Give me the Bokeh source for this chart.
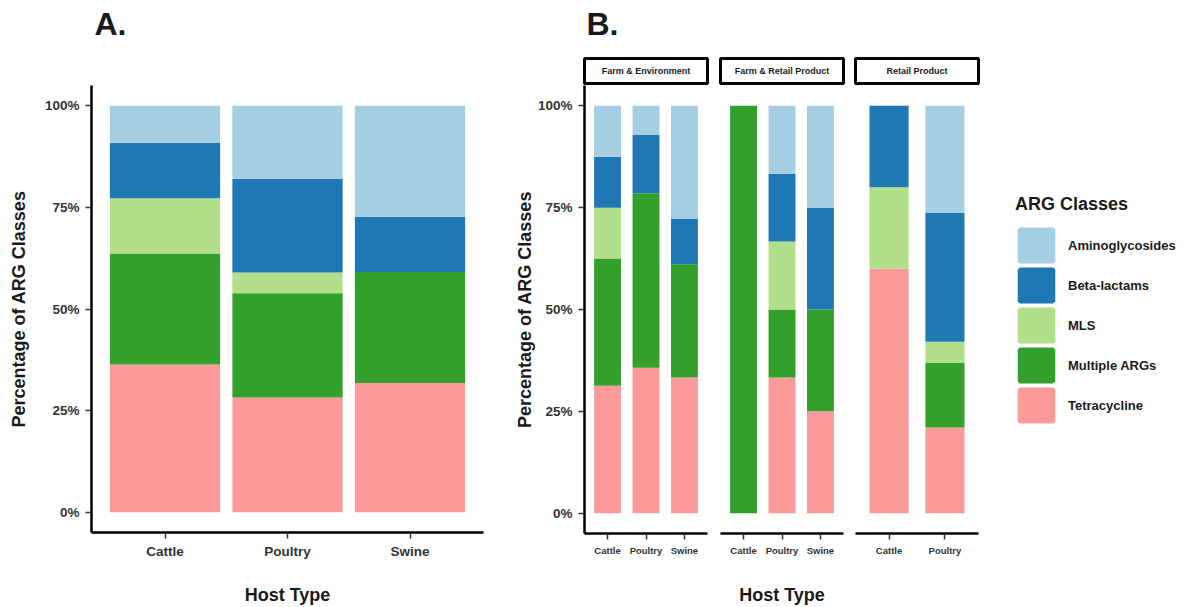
import numpy as np
from bokeh.plotting import figure
from bokeh.layouts import row, column
from bokeh.models import (ColumnDataSource, FactorRange, Range1d, FixedTicker,
                          NumeralTickFormatter, Label, Legend, LegendItem)
from bokeh.embed import file_html
from bokeh.resources import INLINE

FONT = "Liberation Sans"
TXT = "#1a1a1a"
TICK_TXT = "#333333"

# ---- classes (legend order, top to bottom) ----
arg_classes = ["Aminoglycosides", "Beta-lactams", "MLS", "Multiple ARGs", "Tetracycline"]
class_colors = ["#A6CEE3", "#1F78B4", "#B2DF8A", "#33A02C", "#FB9A99"]

# ---- Panel A: all sources (counts of ARGs per host) ----
hosts_all = ["Cattle", "Poultry", "Swine"]
all_tetracycline = [8, 11, 7]
all_multiple = [6, 10, 6]
all_mls = [3, 2, 0]
all_beta = [3, 9, 3]
all_amino = [2, 7, 6]

# ---- Panel B: by source ----
facet_names = ["Farm & Environment", "Farm & Retail Product", "Retail Product"]

fe_hosts = ["Cattle", "Poultry", "Swine"]
fe_tetracycline = [5, 5, 6]
fe_multiple = [5, 6, 5]
fe_mls = [2, 0, 0]
fe_beta = [2, 2, 2]
fe_amino = [2, 1, 5]

fr_hosts = ["Cattle", "Poultry", "Swine"]
fr_tetracycline = [0, 2, 1]
fr_multiple = [1, 1, 1]
fr_mls = [0, 1, 0]
fr_beta = [0, 1, 1]
fr_amino = [0, 1, 1]

rp_hosts = ["Cattle", "Poultry"]
rp_tetracycline = [3, 4]
rp_multiple = [0, 3]
rp_mls = [1, 1]
rp_beta = [1, 6]
rp_amino = [0, 5]

stack_order = ["Tetracycline", "Multiple ARGs", "MLS", "Beta-lactams", "Aminoglycosides"]
stack_colors = [class_colors[arg_classes.index(c)] for c in stack_order]

TOP_H = 85          # space above the panels (tags + strips)
FRAME_H = 448
BOTTOM_H = 74
H_TOTAL = TOP_H + FRAME_H + BOTTOM_H


def make_source(hosts, tet, mul, mls, beta, amino):
    counts = np.array([tet, mul, mls, beta, amino], dtype=float)
    frac = counts / counts.sum(axis=0)
    data = {"host": hosts}
    for name, vals in zip(stack_order, frac):
        data[name] = list(vals)
    return ColumnDataSource(data)


def style_x(p, size):
    ax = p.xaxis[0]
    ax.axis_line_color = "black"
    ax.axis_line_width = 2.5
    ax.major_tick_line_color = "#333333"
    ax.major_tick_line_width = 1.5
    ax.major_tick_out = 6
    ax.major_tick_in = 0
    ax.minor_tick_line_color = None
    ax.major_label_text_font = FONT
    ax.major_label_text_font_style = "bold"
    ax.major_label_text_font_size = size
    ax.major_label_text_color = TICK_TXT
    ax.major_label_standoff = 5
    ax.axis_label_text_font = FONT
    ax.axis_label_text_font_style = "bold"
    ax.axis_label_text_font_size = "18px"
    ax.axis_label_text_color = TXT


def style_y(p, label_standoff):
    ax = p.yaxis[0]
    ax.ticker = FixedTicker(ticks=[0, 0.25, 0.5, 0.75, 1.0])
    ax.formatter = NumeralTickFormatter(format="0%")
    ax.axis_line_color = "black"
    ax.axis_line_width = 2.5
    ax.major_tick_line_color = "#333333"
    ax.major_tick_line_width = 1.5
    ax.major_tick_out = 6
    ax.major_tick_in = 0
    ax.minor_tick_line_color = None
    ax.major_label_text_font = FONT
    ax.major_label_text_font_style = "bold"
    ax.major_label_text_font_size = "13.5px"
    ax.major_label_text_color = TICK_TXT
    ax.major_label_standoff = 6
    ax.axis_label = "Percentage of ARG Classes"
    ax.axis_label_text_font = FONT
    ax.axis_label_text_font_style = "bold"
    ax.axis_label_text_font_size = "18px"
    ax.axis_label_text_color = TXT
    ax.axis_label_standoff = label_standoff


def panel(hosts, src, bar_width, fw, bl, br, yaxis, ystandoff=0, xlabel=None, xstandoff=0):
    p = figure(x_range=FactorRange(factors=hosts, range_padding=0.1, range_padding_units="absolute"),
               y_range=Range1d(-0.05, 1.05),
               width=bl + fw + br, height=FRAME_H + BOTTOM_H,
               min_border_left=bl, min_border_right=br, min_border_top=0,
               min_border_bottom=BOTTOM_H,
               toolbar_location=None, output_backend="svg",
               y_axis_location="left" if yaxis else None)
    p.outline_line_color = None
    p.xgrid.visible = False
    p.ygrid.visible = False
    p.vbar_stack(stack_order, x="host", width=bar_width, source=src,
                 fill_color=stack_colors, line_color=None)
    style_x(p, "13.5px" if bar_width > 0.8 else "9.5px")
    if yaxis:
        style_y(p, ystandoff)
    if xlabel:
        p.xaxis.axis_label = xlabel
        p.xaxis.axis_label_standoff = xstandoff
    return p


def blank(width, height, bl, br, bt, bb, xr, yr):
    f = figure(x_range=xr, y_range=yr, width=width, height=height,
               min_border_left=bl, min_border_right=br, min_border_top=bt, min_border_bottom=bb,
               toolbar_location=None, output_backend="svg",
               x_axis_location=None, y_axis_location=None)
    f.xgrid.visible = False
    f.ygrid.visible = False
    f.outline_line_color = None
    return f


def tag_fig(text, fw, bl, br, height, x):
    # frame coordinates equal pixels: x from frame left, y from the top
    t = blank(bl + fw + br, height, bl, br, 0, 0, Range1d(0, fw), Range1d(height, 0))
    t.add_layout(Label(x=x, y=23, text=text, text_align="left", text_baseline="alphabetic",
                       text_font=FONT, text_font_style="bold", text_font_size="32px",
                       text_color=TXT))
    return t


def strip(text, fw, bl, br, height, top):
    s = blank(bl + fw + br, height, bl, br, top, height - top - 25, Range1d(0, 1), Range1d(0, 1))
    s.outline_line_color = "black"
    s.outline_line_width = 3
    s.add_layout(Label(x=0.5, y=0.5, text=text, text_align="center", text_baseline="middle",
                       text_font=FONT, text_font_style="bold", text_font_size="9px",
                       text_color=TXT))
    return s


# Panel A
srcA = make_source(hosts_all, all_tetracycline, all_multiple, all_mls, all_beta, all_amino)
pA = panel(hosts_all, srcA, 0.9, 392, 91, 17, True, ystandoff=13,
           xlabel="Host Type", xstandoff=23)
tA = tag_fig("A.", 392, 91, 17, TOP_H, 3)

# Panel B
src1 = make_source(fe_hosts, fe_tetracycline, fe_multiple, fe_mls, fe_beta, fe_amino)
src2 = make_source(fr_hosts, fr_tetracycline, fr_multiple, fr_mls, fr_beta, fr_amino)
src3 = make_source(rp_hosts, rp_tetracycline, rp_multiple, rp_mls, rp_beta, rp_amino)

pB1 = panel(fe_hosts, src1, 0.7, 123, 84, 6, True, ystandoff=0)
pB2 = panel(fr_hosts, src2, 0.7, 123, 7, 6, False, xlabel="Host Type", xstandoff=26)
pB3 = panel(rp_hosts, src3, 0.7, 123, 6, 12, False)

tB = tag_fig("B.", 123, 84, 6, 56, 2)
s1 = strip(facet_names[0], 123, 84, 6, TOP_H - 56, 2)
s2 = strip(facet_names[1], 123, 7, 6, TOP_H, 58)
s3 = strip(facet_names[2], 123, 6, 12, TOP_H, 58)

# Legend figure (legend keys come from hidden bar renderers of panel A's data)
LEG_LEFT, LEG_TOP, LEG_W = 25, 194, 188
pL = blank(LEG_W, H_TOTAL, LEG_LEFT, 0, LEG_TOP, 0,
           FactorRange(factors=hosts_all), Range1d(0, 1))
leg_renderers = pL.vbar_stack(stack_order, x="host", width=0.9, source=srcA,
                              fill_color=stack_colors, line_color=stack_colors, line_width=4)
for r in leg_renderers:
    r.visible = False
items = [LegendItem(label=name, renderers=[leg_renderers[stack_order.index(name)]])
         for name in arg_classes]
leg = Legend(items=items, location="top_left", title="ARG Classes",
             margin=0, padding=0, border_line_color=None, background_fill_alpha=0,
             inactive_fill_alpha=0,
             glyph_width=42, glyph_height=40, spacing=0, label_standoff=11,
             label_text_font=FONT, label_text_font_style="bold", label_text_font_size="13px",
             label_text_color=TXT,
             title_text_font=FONT, title_text_font_style="bold", title_text_font_size="18px",
             title_text_color=TXT, title_standoff=10)
pL.add_layout(leg)

layout = row(column(tA, pA), column(tB, s1, pB1), column(s2, pB2), column(s3, pB3), column(pL))

open("out.html", "w").write(file_html(layout, INLINE))
